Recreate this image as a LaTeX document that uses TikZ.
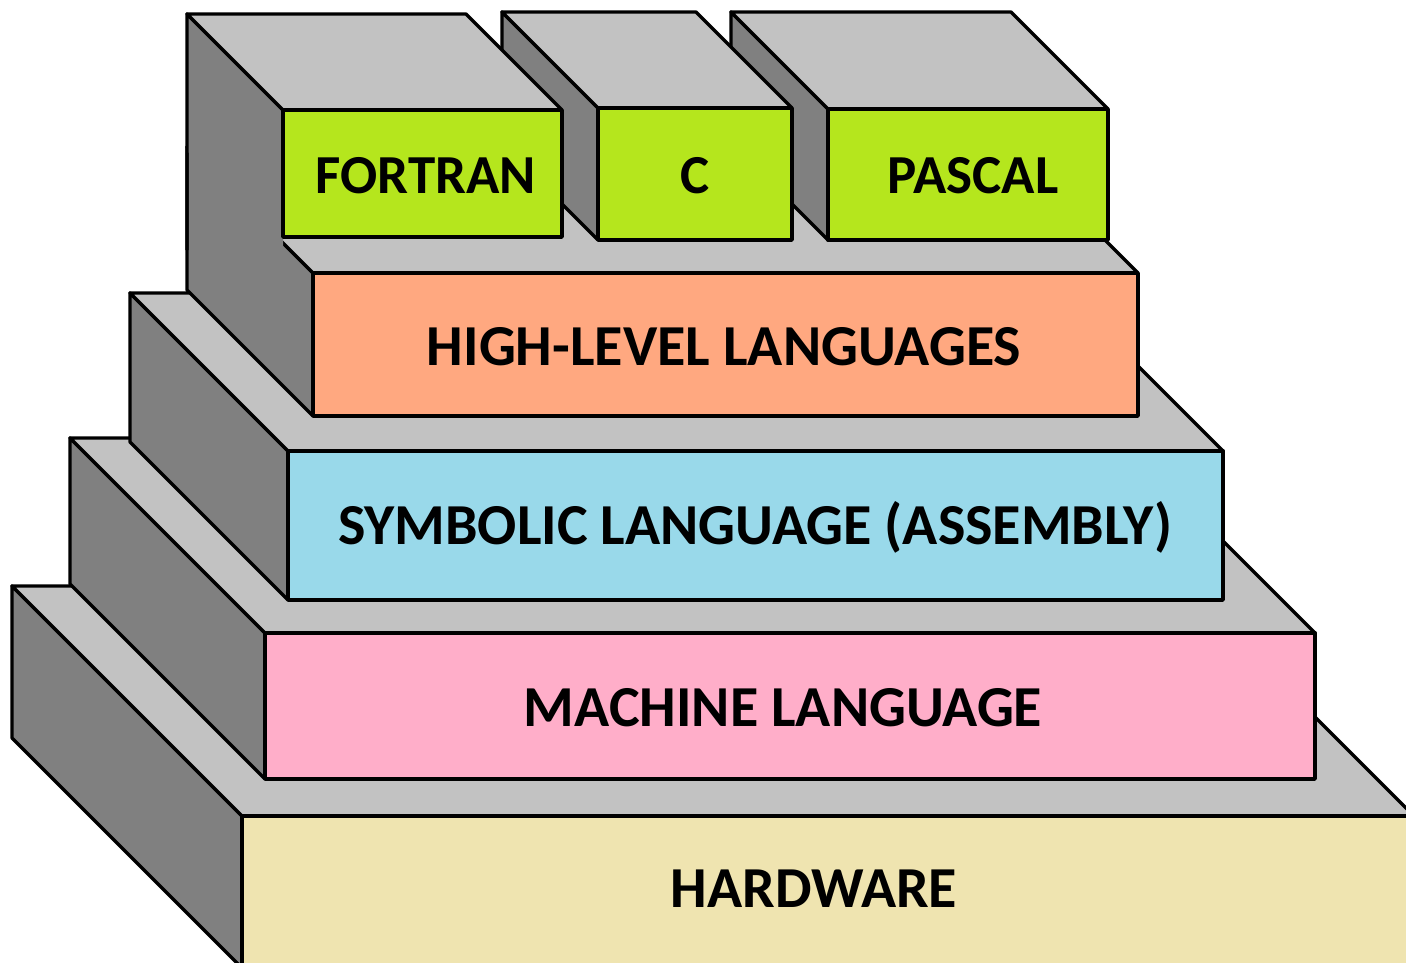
\documentclass[tikz,border=0pt]{standalone}
\usepackage{fontspec}
\setmainfont{Carlito}
\definecolor{topgray}{RGB}{194,194,194}
\definecolor{sidegray}{RGB}{128,128,128}
\definecolor{lime}{RGB}{181,230,29}
\definecolor{salmon}{RGB}{255,168,128}
\definecolor{skyblue}{RGB}{153,217,234}
\definecolor{pinkish}{RGB}{255,174,201}
\definecolor{sand}{RGB}{239,228,176}
\tikzset{
  edge/.style={draw=black, line width=3.4pt, line join=round},
  sideface/.style={edge, fill=sidegray},
  topface/.style={edge, fill=topgray},
  lbl/.style={font=\fontsize{58}{62}\selectfont\bfseries, text=black, inner sep=0pt},
  smalllbl/.style={lbl, font=\fontsize{55}{60}\selectfont\bfseries}
}
% side face: xl, yt, yb, depth
\newcommand\blkside[4]{\path[sideface] (#1,#2) -- (#1,#3) -- ++(-#4,-#4) -- ++(0,{#2-#3}) -- cycle;}
% top face: xl, xr, yt, depth
\newcommand\blktop[4]{\path[topface] (#1,#3) -- (#2,#3) -- ++(-#4,-#4) -- ++({#1-#2},0) -- cycle;}
% front face: xl, xr, yt, yb, colour
\newcommand\blkfront[5]{\path[edge, fill=#5] (#1,#3) rectangle (#2,#4);}
\begin{document}
\begin{tikzpicture}[x=1pt,y=-1pt]
\useasboundingbox (0,0) rectangle (1406,962);
\clip (0,0) rectangle (1406,962);
% hardware
\blkside{242}{816}{968}{230}
\blktop{242}{1414}{816}{230}
\blkfront{242}{1414}{816}{968}{sand}
% machine language
\blkside{265}{633}{779}{195}
\blktop{265}{1315}{633}{195}
\blkfront{265}{1315}{633}{779}{pinkish}
% symbolic language
\blkside{288}{451}{600}{158}
\blktop{288}{1223}{451}{158}
\blkfront{288}{1223}{451}{600}{skyblue}
% high-level languages
\blkside{313}{273}{416}{126}
\blktop{313}{1138}{273}{126}
\blkfront{313}{1138}{273}{416}{salmon}
% language blocks: hidden side faces first
\blkside{828}{109}{240}{97}
\blkside{598}{108}{240}{96}
% FORTRAN (its side face merges with the high-level side face)
\fill[sidegray] (187,14) -- (283,110) -- (283,247) -- (187,151) -- cycle;
\draw[edge] (187,250) -- (187,14) -- (283,110);
\blktop{283}{562}{110}{96}
\blkfront{283}{562}{110}{237}{lime}
% C
\blktop{598}{792}{108}{96}
\blkfront{598}{792}{108}{240}{lime}
% PASCAL
\blktop{828}{1108}{109}{97}
\blkfront{828}{1108}{109}{240}{lime}
% labels
\node[smalllbl] (fortran) at (426,176) {FORTRAN};
\node[smalllbl] (c) at (695,176) {C};
\node[smalllbl] (pascal) at (973,176) {PASCAL};
\node[lbl] (hll) at (724,347) {HIGH-LEVEL LANGUAGES};
\node[lbl] (sym) at (755,527) {SYMBOLIC LANGUAGE (ASSEMBLY)};
\node[lbl] (mach) at (783,708) {MACHINE LANGUAGE};
\node[lbl] (hw) at (814,889) {HARDWARE};
\end{tikzpicture}
\end{document}
